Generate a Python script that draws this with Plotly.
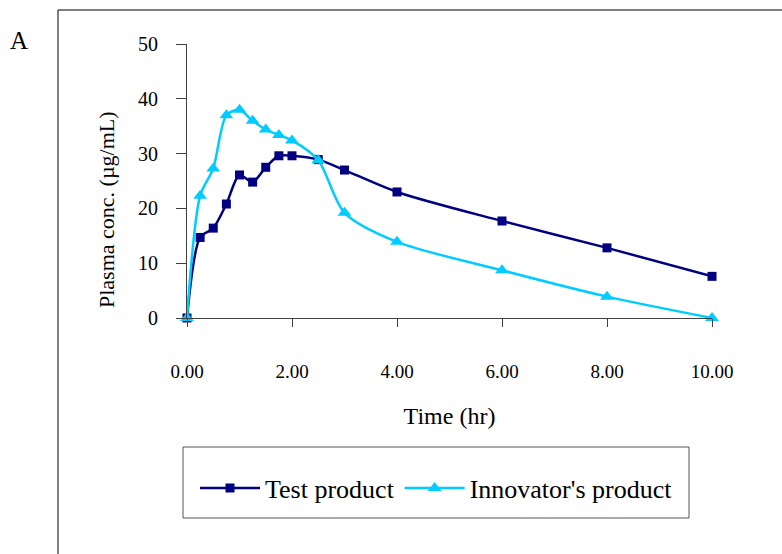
import plotly.graph_objects as go

time_hr = [0, 0.25, 0.5, 0.75, 1.0, 1.25, 1.5, 1.75, 2.0, 2.5, 3.0, 4.0, 6.0, 8.0, 10.0]
test_product = [0, 14.7, 16.4, 20.8, 26.1, 24.8, 27.5, 29.6, 29.6, 28.9, 27.0, 23.0, 17.7, 12.8, 7.6]
innovator_product = [0, 22.3, 27.3, 37.0, 38.0, 36.0, 34.4, 33.4, 32.4, 28.8, 19.2, 13.9, 8.7, 3.9, 0.0]
x_ticks = [0, 2, 4, 6, 8, 10]
x_tick_labels = ["0.00", "2.00", "4.00", "6.00", "8.00", "10.00"]
y_ticks = [0, 10, 20, 30, 40, 50]

FONT = "Liberation Serif"
NAVY = "#000080"
CYAN = "#00CCFF"

fig = go.Figure()
fig.add_trace(go.Scatter(
    x=time_hr, y=test_product, name="Test product",
    mode="lines+markers", line=dict(color=NAVY, width=2.5, shape="spline", smoothing=0.8),
    marker=dict(symbol="square", size=9, color=NAVY),
    cliponaxis=False,
))
fig.add_trace(go.Scatter(
    x=time_hr, y=innovator_product, name="Innovator's product",
    mode="lines+markers", line=dict(color=CYAN, width=2.5, shape="spline", smoothing=0.8),
    marker=dict(symbol="triangle-up", size=12, color=CYAN),
    cliponaxis=False,
))

L, R, T, B = 187, 70, 44, 236
W, H = 782, 554
pw, ph = W - L - R, H - T - B

def px_x(p):
    return (p - L) / pw

def px_y(p):
    return (H - B - p) / ph

fig.update_layout(
    width=W, height=H,
    margin=dict(l=L, r=R, t=T, b=B),
    paper_bgcolor="white", plot_bgcolor="white",
    font=dict(family=FONT, size=20, color="black"),
    showlegend=True,
    legend=dict(
        orientation="h", x=px_x(195), y=px_y(488), xanchor="left", yanchor="middle",
        font=dict(family=FONT, size=26, color="black"),
        bgcolor="rgba(0,0,0,0)", borderwidth=0, itemwidth=60,
    ),
    xaxis=dict(
        range=[0, 10], tickmode="array", tickvals=x_ticks, ticktext=x_tick_labels,
        showgrid=False, zeroline=False, showline=True, linecolor="#404040", linewidth=1,
        ticks="outside", ticklen=8, tickcolor="#404040", ticklabelstandoff=28,
        tickfont=dict(family=FONT, size=19),
        title=dict(text="Time (hr)", font=dict(family=FONT, size=24), standoff=26),
    ),
    yaxis=dict(
        range=[0, 50], tickmode="array", tickvals=y_ticks,
        showgrid=False, zeroline=False, showline=True, linecolor="#404040", linewidth=1,
        ticks="outside", ticklen=10, tickcolor="#404040", ticklabelstandoff=14,
        tickfont=dict(family=FONT, size=20),
    ),
    shapes=[
        dict(type="rect", xref="paper", yref="paper",
             x0=px_x(58), x1=px_x(800), y0=px_y(10), y1=px_y(600),
             line=dict(color="black", width=1)),
        dict(type="rect", xref="paper", yref="paper",
             x0=px_x(183), x1=px_x(689), y0=px_y(447), y1=px_y(518),
             line=dict(color="#555555", width=1)),
    ],
    annotations=[
        dict(text="A", xref="paper", yref="paper", x=px_x(19), y=px_y(41),
             xanchor="center", yanchor="middle", showarrow=False,
             font=dict(family=FONT, size=25, color="black")),
        dict(text="Plasma conc. (µg/mL)", xref="paper", yref="paper",
             x=px_x(106), y=px_y(210), textangle=-90,
             xanchor="center", yanchor="middle", showarrow=False,
             font=dict(family=FONT, size=22, color="black")),
    ],
)

fig.write_html("out.html")
